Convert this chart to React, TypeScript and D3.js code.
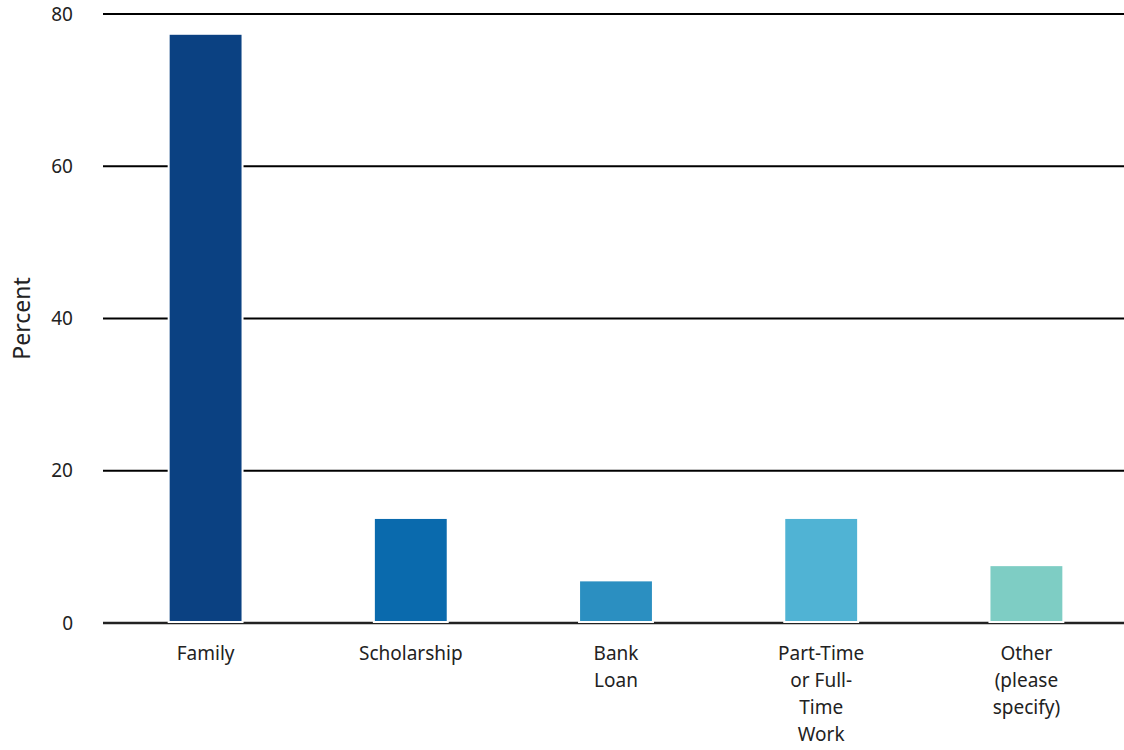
import React, { useEffect, useRef } from 'react';
import * as d3 from 'd3';

const categories = ['Family', 'Scholarship', 'Bank Loan', 'Part-Time or Full-Time Work', 'Other (please specify)'];
const labelLines = [['Family'], ['Scholarship'], ['Bank', 'Loan'], ['Part-Time', 'or Full-', 'Time', 'Work'], ['Other', '(please', 'specify)']];
const values = [77.4, 13.8, 5.6, 13.8, 7.6];
const colors = ['#0b4182', '#0a6aad', '#2b8fc1', '#50b3d4', '#7ecdc4'];
const yTicks = [0, 20, 40, 60, 80];

const App: React.FC = () => {
  const svgRef = useRef<SVGSVGElement>(null);

  useEffect(() => {
    if (!svgRef.current) return;
    const svg = d3.select(svgRef.current);
    svg.selectAll('*').remove();

    const width = 1124;
    const height = 750;
    const left = 103;
    const top = 14;
    const bottom = 623;
    const font = "'Noto Sans', sans-serif";

    const x = d3
      .scaleBand<string>()
      .domain(categories)
      .range([left, left + 5 * 205.2])
      .paddingInner(0.64)
      .paddingOuter(0.32);
    const y = d3.scaleLinear().domain([0, 80]).range([bottom, top]);

    // gridlines
    svg
      .append('g')
      .selectAll('line')
      .data(yTicks)
      .join('line')
      .attr('x1', left)
      .attr('x2', width)
      .attr('y1', (d) => y(d))
      .attr('y2', (d) => y(d))
      .attr('stroke', (d) => (d === 0 ? '#222' : '#000'))
      .attr('stroke-width', (d) => (d === 0 ? 2.5 : 2));

    // tick labels
    svg
      .append('g')
      .selectAll('text')
      .data(yTicks)
      .join('text')
      .attr('x', 73)
      .attr('y', (d) => y(d))
      .attr('dy', '0.35em')
      .attr('text-anchor', 'end')
      .attr('font-family', font)
      .attr('font-size', 19)
      .attr('fill', '#222')
      .text((d) => d);

    // bars
    svg
      .append('g')
      .selectAll('rect')
      .data(values)
      .join('rect')
      .attr('x', (_, i) => x(categories[i])!)
      .attr('width', x.bandwidth())
      .attr('y', (d) => y(d))
      .attr('height', (d) => y(0) - y(d) - 1)
      .attr('fill', (_, i) => colors[i])
      .attr('stroke', '#fff')
      .attr('stroke-width', 2);

    // category labels
    const labels = svg
      .append('g')
      .selectAll('text')
      .data(labelLines)
      .join('text')
      .attr('x', (_, i) => x(categories[i])! + x.bandwidth() / 2)
      .attr('y', 660)
      .attr('text-anchor', 'middle')
      .attr('font-family', font)
      .attr('font-size', 19)
      .attr('fill', '#222');
    labels
      .selectAll('tspan')
      .data((d) => d)
      .join('tspan')
      .attr('x', function () {
        return (this.parentNode as SVGTextElement).getAttribute('x');
      })
      .attr('dy', (_, j) => (j === 0 ? 0 : 27))
      .text((d) => d);

    // y title
    svg
      .append('text')
      .attr('transform', `translate(30,${(top + bottom) / 2}) rotate(-90)`)
      .attr('text-anchor', 'middle')
      .attr('font-family', font)
      .attr('font-size', 23)
      .attr('fill', '#222')
      .text('Percent');

    svg.attr('width', width).attr('height', height);
  }, []);

  return (
    <div style={{ position: 'absolute', left: 0, top: 0 }}>
      <svg ref={svgRef} style={{ display: 'block' }}></svg>
    </div>
  );
};

export default App;
